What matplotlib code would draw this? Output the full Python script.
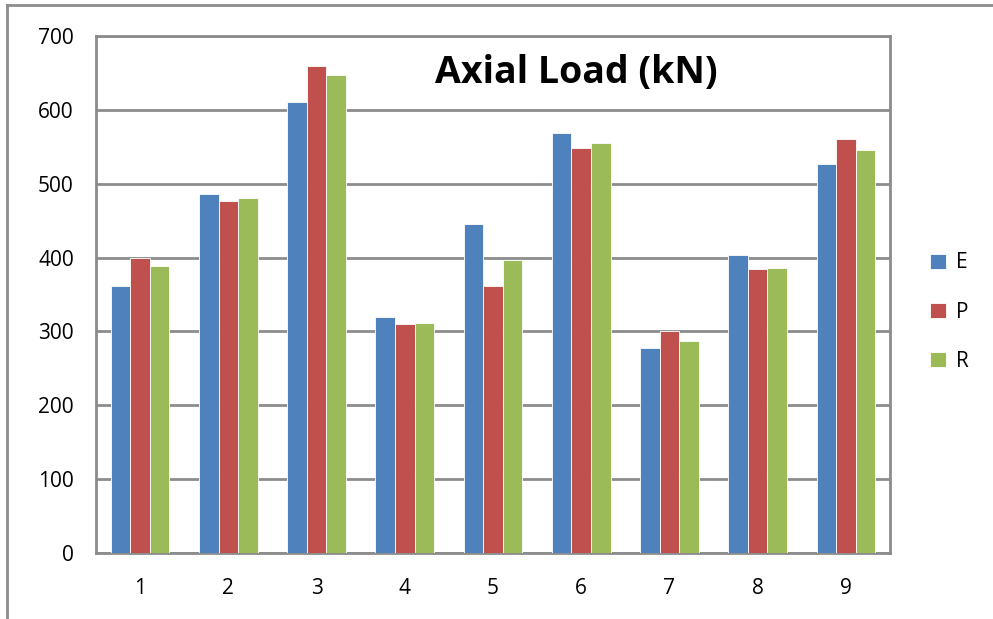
#! python3
# axial_load.py - grouped bar chart of axial load (kN), E / P / R for 9 columns

import numpy as np
import matplotlib
matplotlib.use('Agg')
import matplotlib.pyplot as plt
from matplotlib.lines import Line2D

# values
CATEGORIES = ['1', '2', '3', '4', '5', '6', '7', '8', '9']
E_VALUES = [361, 486, 611, 319, 445, 569, 278, 403, 527]
P_VALUES = [400, 476, 660, 310, 361, 549, 300, 384, 560]
R_VALUES = [388, 480, 647, 311, 397, 555, 287, 386, 546]
SERIES_NAMES = ['E', 'P', 'R']
COLORS = ['#4F81BD', '#C0504D', '#9BBB59']
Y_TICKS = [0, 100, 200, 300, 400, 500, 600, 700]

GRID = '#8C8C8C'

plt.rcParams['font.family'] = ['Open Sans', 'DejaVu Sans']


def main():
    fig = plt.figure(figsize=(9.93, 6.19), dpi=100)
    # plot area in pixel terms: x 96..890, y 36..553 (of 993x619)
    ax = fig.add_axes([96 / 993, 1 - 553 / 619, (890 - 96) / 993, (553 - 36) / 619])

    x = np.arange(len(CATEGORIES))
    width = 0.222
    for i, (vals, color) in enumerate(zip([E_VALUES, P_VALUES, R_VALUES], COLORS)):
        ax.bar(x + (i - 1) * width, vals, width=width, color=color,
               edgecolor='white', linewidth=0.6, label=SERIES_NAMES[i], zorder=3)

    ax.set_xlim(-0.5, len(CATEGORIES) - 0.5)
    ax.set_ylim(0, 700)
    ax.set_yticks(Y_TICKS)
    ax.set_xticks(x)
    ax.set_xticklabels(CATEGORIES)
    ax.tick_params(axis='both', length=0, labelsize=15, colors='black')
    ax.tick_params(axis='y', pad=16)
    ax.tick_params(axis='x', pad=18)

    ax.grid(axis='y', color=GRID, linewidth=2, zorder=0)
    for side in ax.spines.values():
        side.set_color(GRID)
        side.set_linewidth(2)

    ax.text(0.605, 0.928, 'Axial Load (kN)', transform=ax.transAxes, ha='center', va='center',
            fontsize=27, fontweight='bold')

    ax.legend(loc='center left', bbox_to_anchor=(1.027, 0.466), frameon=False,
              fontsize=15, handlelength=0.75, handleheight=0.75, handletextpad=0.5,
              labelspacing=1.35)

    # outer chart frame (only left and top edges show in the crop)
    fig.add_artist(Line2D([7 / 993, 7 / 993], [0, 1 - 5 / 619], color=GRID, linewidth=2))
    fig.add_artist(Line2D([7 / 993, 1], [1 - 5 / 619, 1 - 5 / 619], color=GRID, linewidth=2))

    fig.savefig('out.png', dpi=100)


if __name__ == '__main__':
    main()
